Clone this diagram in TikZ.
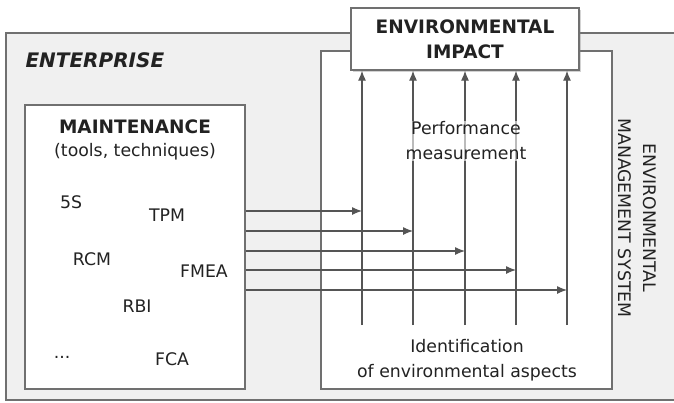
\documentclass[tikz,border=0pt]{standalone}
\usepackage{fontspec}
\setmainfont{DejaVu Sans}
\usetikzlibrary{arrows.meta, shadows}
\definecolor{framegray}{HTML}{707070}
\definecolor{bggray}{HTML}{F0F0F0}
\definecolor{linegray}{HTML}{555555}
\definecolor{txtgray}{HTML}{222222}
\tikzset{
  box/.style = {draw=framegray, line width=1.3pt, fill=white},
  flow/.style = {draw=linegray, line width=1.2pt, -{Latex[length=10pt, width=8pt]}},
  veil/.style = {fill=white, fill opacity=0.6, text opacity=1, inner sep=1pt},
  boldtext/.style = {font=\fontsize{18.5}{25}\selectfont\bfseries}
}

\begin{document}
\begin{tikzpicture}[x=1pt, y=-1pt, font=\fontsize{17.3}{25}\selectfont, text=txtgray]
  \useasboundingbox (0,0) rectangle (674,402);

  %% Enterprise with maintenance and EMS

  % Enterprise
  \fill[bggray] (6,33) rectangle (674,400);
  \draw[framegray, line width=1.3pt] (674,33) -- (6,33) -- (6,400) -- (674,400);
  \node[anchor=west, font=\fontsize{20}{25}\selectfont\bfseries\itshape] (enterprise) at (22,60) {ENTERPRISE};

  % Maintenance
  \node[box, minimum width=220, minimum height=284] (maint) at (135,247) {};
  \node[boldtext] (mainttitle) at (135,127) {MAINTENANCE};
  \node (mainttools) at (135,152) {(tools, techniques)};
  \node (s5) at (71,202) {5S};
  \node (tpm) at (167,215) {TPM};
  \node (rcm) at (92,259) {RCM};
  \node (fmea) at (204,271) {FMEA};
  \node (rbi) at (137,306) {RBI};
  \node[anchor=base] (more) at (62,358) {...};
  \node (fca) at (172,359) {FCA};

  % EMS
  \node[box, minimum width=291, minimum height=338] (ems) at (466.5,220) {};
  \node[rotate=-90, align=center] (emslabel) at (637,218) {ENVIRONMENTAL\\MANAGEMENT SYSTEM};

  % Impact
  \node[box, drop shadow={shadow xshift=1.5pt, shadow yshift=-1.5pt, opacity=0.35},
        minimum width=228, minimum height=62, align=center, boldtext]
        (impact) at (465,39) {ENVIRONMENTAL\\IMPACT};

  % Arrows
  \foreach \i/\x/\y in {1/362/211, 2/413/231, 3/465/251, 4/516/270, 5/567/290} {
    \coordinate (v\i) at (\x,325);
    \coordinate (h\i) at (245,\y);
    \draw[flow] (v\i) -- (v\i |- impact.south);
    \draw[flow] (maint.east |- h\i) -- (v\i |- h\i);
  }

  % Texts in EMS
  \node[veil, align=center] (perf) at (466,141) {Performance\\measurement};
  \node[align=center] (ident) at (467,360) {Identification\\of environmental aspects};

\end{tikzpicture}
\end{document}
